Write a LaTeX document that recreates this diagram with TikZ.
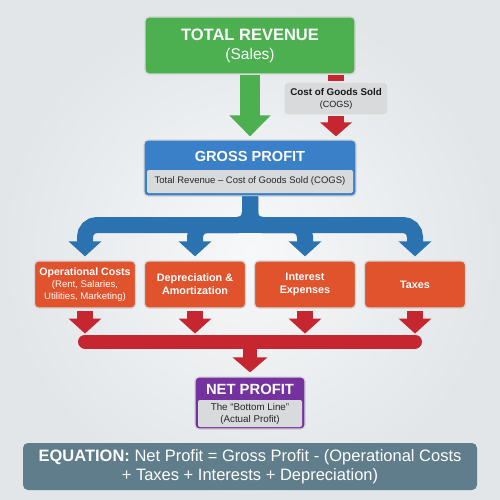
\documentclass[tikz,border=0pt]{standalone}
\usepackage{fontspec}
\setmainfont{Liberation Sans}
\usetikzlibrary{arrows.meta, calc}
\definecolor{bginner}{HTML}{F7F8F9}
\definecolor{bgouter}{HTML}{E2E6E9}
\definecolor{revgreen}{HTML}{4CAF50}
\definecolor{grossblue}{HTML}{3A80C8}
\definecolor{flowblue}{HTML}{2B72B0}
\definecolor{costorange}{HTML}{E0532C}
\definecolor{flowred}{HTML}{C62630}
\definecolor{netpurple}{HTML}{7531A0}
\definecolor{notegray}{HTML}{D9DADB}
\definecolor{eqslate}{HTML}{607D8B}

\begin{document}
\begin{tikzpicture}[x=1pt, y=-1pt,
  every node/.style={inner sep=0pt, align=center, text=white},
  box/.style={draw=black!16, line width=1.2pt, rounded corners=4pt},
  note/.style={fill=notegray, rounded corners=2pt, text=black!85},
  costbox/.style={box, fill=costorange, minimum width=101pt, minimum height=47pt, font=\fontsize{10.6}{11.8}\selectfont\bfseries},
  bluearrow/.style={draw=flowblue, line width=16pt, rounded corners=12pt, -{Triangle[width=32pt, length=15pt]}, shorten >=4pt},
  redarrow/.style={draw=flowred, line width=16pt, -{Triangle[width=32pt, length=15pt]}}]
  \useasboundingbox (0,0) rectangle (500,500);
  \shade[inner color=bginner, outer color=bgouter] (0,0) rectangle (500,500);

  \node[box, fill=revgreen, minimum width=210pt, minimum height=57pt, font=\fontsize{15.5}{19}\selectfont] (rev) at (250,45.5) {{\fontsize{16.5}{19}\selectfont\bfseries TOTAL REVENUE}\\(Sales)};
  \node[box, draw=black!8, fill=notegray, text=black!90, minimum width=104pt, minimum height=33pt, font=\fontsize{9}{12}\selectfont] (cogs) at (336,98.5) {{\fontsize{9.8}{12}\selectfont\bfseries Cost of Goods Sold}\\(COGS)};

  \node[box, fill=grossblue, minimum width=212pt, minimum height=56pt] (gross) at (250,168) {};
  \node[font=\fontsize{14.6}{17}\selectfont\bfseries] (grosstitle) at (250,156) {GROSS PROFIT};
  \node[note, minimum width=206pt, minimum height=23pt, font=\fontsize{9.5}{12}\selectfont] (grossnote) at (250,181.5) {Total Revenue – Cost of Goods Sold (COGS)};

  \node[costbox] (opcost) at (85,284.5) {Operational Costs\\{\mdseries\fontsize{9.6}{11}\selectfont (Rent, Salaries,}\\{\mdseries\fontsize{9.6}{11}\selectfont Utilities, Marketing)}};
  \node[costbox, font=\fontsize{10.8}{13}\selectfont\bfseries] (deprec) at (195,284.5) {Depreciation \&\\Amortization};
  \node[costbox, font=\fontsize{10.8}{13}\selectfont\bfseries] (interest) at (305,284.5) {Interest\\Expenses};
  \node[costbox, font=\fontsize{10.8}{13}\selectfont\bfseries] (taxes) at (415,284.5) {Taxes};

  \node[box, fill=netpurple, minimum width=110pt, minimum height=52pt] (net) at (250,403) {};
  \node[font=\fontsize{14.8}{17}\selectfont\bfseries] (nettitle) at (250,389) {NET PROFIT};
  \node[note, minimum width=104pt, minimum height=27pt, font=\fontsize{9.8}{12}\selectfont] (netnote) at (250,413.5) {The “Bottom Line”\\(Actual Profit)};

  \node[fill=eqslate, rounded corners=5pt, minimum width=454pt, minimum height=47pt, font=\fontsize{16.5}{19}\selectfont] (equation) at (250,466.5) {\textbf{EQUATION:} Net Profit = Gross Profit - (Operational Costs\\+ Taxes + Interests + Depreciation)};

  \draw[draw=revgreen, line width=20pt, -{Triangle[width=40pt, length=21pt]}, shorten >=3pt] (rev.south) -- (gross.north);
  \draw[draw=flowred, line width=16pt] (rev.south -| cogs) -- (cogs.north);
  \draw[redarrow, -{Triangle[width=31pt, length=14pt]}, shorten >=3pt] (cogs.south) -- (cogs.south |- gross.north);

  \coordinate (split) at (250,225);
  \foreach \b in {opcost, deprec, interest, taxes}
    \draw[bluearrow] (gross.south) -- (split) -| (\b.north);
  \draw[draw=flowblue, line width=16pt] ([xshift=-22pt]split) -- ([xshift=22pt]split);

  \coordinate (merge) at (250,341.5);
  \foreach \b in {opcost, deprec, interest, taxes}
    \draw[redarrow, shorten <=2pt] (\b.south) -- ++(0,25);
  \draw[draw=flowred, line width=14pt, line cap=round] (opcost.south |- merge) -- (taxes.south |- merge);
  \draw[redarrow, line width=14pt, -{Triangle[width=34pt, length=15pt]}, shorten >=4pt] (merge) -- (net.north);
\end{tikzpicture}
\end{document}
